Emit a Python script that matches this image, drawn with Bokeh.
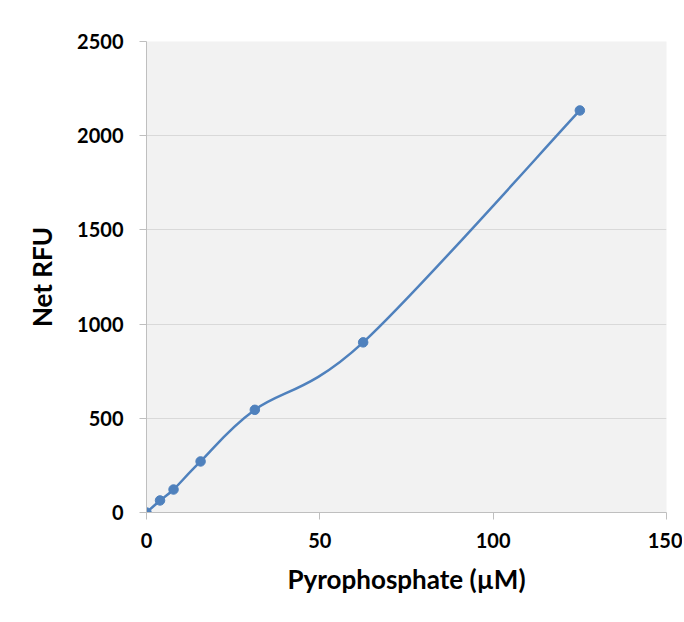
import numpy as np
from bokeh.plotting import figure
from bokeh.models import FixedTicker, Range1d, ColumnDataSource
from bokeh.embed import file_html
from bokeh.resources import INLINE

# Data
pyrophosphate_um = [0, 3.9, 7.8, 15.6, 31.25, 62.5, 125]
net_rfu = [0, 64, 122, 271, 545, 903, 2134]
x_ticks = [0, 50, 100, 150]
y_ticks = [0, 500, 1000, 1500, 2000, 2500]

BLUE = "#4f81bd"
FONT = "Lato"

p = figure(frame_width=520, frame_height=471, output_backend="svg", toolbar_location=None,
           x_range=Range1d(0, 150), y_range=Range1d(0, 2500),
           min_border_left=146, min_border_top=41, min_border_right=16, min_border_bottom=104)
p.background_fill_color = "#f2f2f2"
p.border_fill_color = "white"
p.outline_line_color = None

# Smoothed line (Catmull-Rom style Bezier, as Excel's smoothed line)
xs = np.array(pyrophosphate_um, dtype=float)
ys = np.array(net_rfu, dtype=float)
n = len(xs)
x0, y0, x1, y1, cx0, cy0, cx1, cy1 = [], [], [], [], [], [], [], []
for i in range(n - 1):
    im1 = max(i - 1, 0)
    ip2 = min(i + 2, n - 1)
    x0.append(xs[i]); y0.append(ys[i])
    x1.append(xs[i + 1]); y1.append(ys[i + 1])
    cx0.append(xs[i] + (xs[i + 1] - xs[im1]) / 6.0)
    cy0.append(ys[i] + (ys[i + 1] - ys[im1]) / 6.0)
    cx1.append(xs[i + 1] - (xs[ip2] - xs[i]) / 6.0)
    cy1.append(ys[i + 1] - (ys[ip2] - ys[i]) / 6.0)
p.bezier(x0=x0, y0=y0, x1=x1, y1=y1, cx0=cx0, cy0=cy0, cx1=cx1, cy1=cy1,
         line_color=BLUE, line_width=2.5)

src = ColumnDataSource(dict(x=pyrophosphate_um, y=net_rfu))
p.scatter("x", "y", source=src, size=9.5, fill_color=BLUE, line_color=BLUE)

# Axes
p.xaxis.ticker = FixedTicker(ticks=x_ticks)
p.yaxis.ticker = FixedTicker(ticks=y_ticks)
for ax in (p.xaxis[0], p.yaxis[0]):
    ax.axis_line_color = "#bfbfbf"
    ax.major_tick_line_color = "#bfbfbf"
    ax.major_tick_out = 7
    ax.major_tick_in = 0
    ax.minor_tick_line_color = None
    ax.major_label_text_font = FONT
    ax.major_label_text_font_style = "bold"
    ax.major_label_text_font_size = "20px"
    ax.major_label_text_color = "black"
    ax.axis_label_text_font = FONT
    ax.axis_label_text_font_style = "bold"
    ax.axis_label_text_font_size = "26px"
    ax.axis_label_text_color = "black"

p.xaxis.axis_label = "Pyrophosphate (µM)"
p.yaxis.axis_label = "Net RFU"
p.xaxis.major_label_standoff = 13
p.yaxis.major_label_standoff = 16
p.xaxis.axis_label_standoff = 12
p.yaxis.axis_label_standoff = 16

p.xgrid.grid_line_color = None
p.ygrid.grid_line_color = "#d9d9d9"
p.ygrid.grid_line_width = 1

open("out.html", "w").write(file_html(p, INLINE))
